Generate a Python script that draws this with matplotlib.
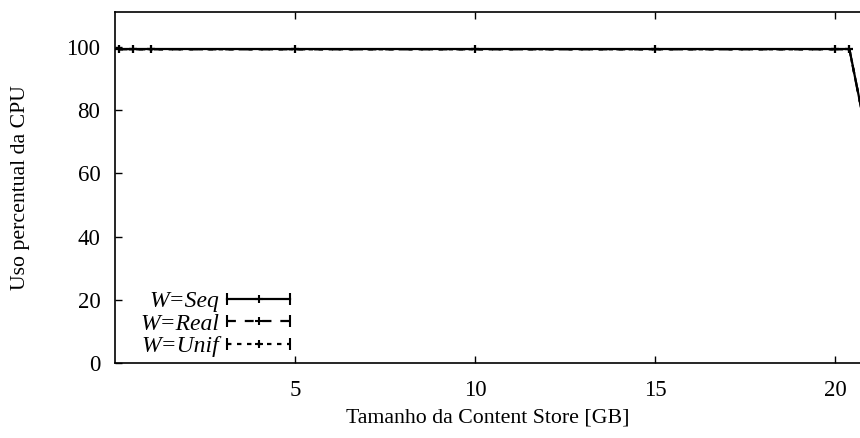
import matplotlib
matplotlib.use("Agg")
import matplotlib.pyplot as plt
from matplotlib.lines import Line2D
from matplotlib.legend_handler import HandlerLine2D, HandlerTuple

plt.rcParams['font.family'] = ['Liberation Serif', 'DejaVu Serif']
plt.rcParams['font.size'] = 15.5

# CPU usage vs content store size, one series per workload
sizes = [0.1, 0.5, 1, 5, 10, 15, 20, 20.4, 21]
cpuSeq = [99.3, 99.3, 99.3, 99.3, 99.3, 99.3, 99.3, 99.3, 65.0]
cpuReal = [99.2, 99.2, 99.2, 99.2, 99.2, 99.2, 99.2, 99.2, 65.0]
cpuUnif = [99.2, 99.2, 99.2, 99.2, 99.2, 99.2, 99.2, 99.2, 65.0]
labels = ["W=Seq", "W=Real", "W=Unif"]
xticks = [5, 10, 15, 20]
yticks = [0, 20, 40, 60, 80, 100]

linestyles = ["-", (0, (4, 4)), (0, (2, 2.5))]

fig = plt.figure(figsize=(8.6, 4.38), dpi=100)
ax = fig.add_axes([115 / 860, 1 - 363 / 438, 745 / 860, 351 / 438])

series = [cpuSeq, cpuReal, cpuUnif]
handles = []
hmap = {}
for vals, lab, ls in zip(series, labels, linestyles):
    ax.plot(sizes, vals, color="black", linestyle=ls, linewidth=1.6,
            marker="+", markersize=6, markeredgewidth=1.5)
    # legend sample: line with end caps plus a cross in the middle
    caps = Line2D([], [], color="black", linestyle=ls, linewidth=1.6,
                  marker="|", markersize=8, markeredgewidth=1.5)
    cross = Line2D([], [], color="black", linestyle="none",
                   marker="+", markersize=6, markeredgewidth=1.5)
    hmap[caps] = HandlerLine2D(numpoints=2)
    hmap[cross] = HandlerLine2D(numpoints=1)
    handles.append((caps, cross))
hmap[tuple] = HandlerTuple(ndivide=1)

ax.set_xlim(0, 745 / 36)
ax.set_ylim(0, 111)
ax.set_xticks(xticks)
ax.set_yticks(yticks)
ax.tick_params(direction="in", top=True, right=False, length=5, width=1,
               labelsize=16.5)
ax.tick_params(axis="x", pad=12)
ax.tick_params(axis="y", pad=10.5)
ax.spines["right"].set_visible(False)
for s in ["left", "bottom", "top"]:
    ax.spines[s].set_linewidth(1.2)

ax.set_xlabel("Tamanho da Content Store [GB]", fontsize=15.7, labelpad=6)
ax.set_ylabel("Uso percentual da CPU", fontsize=15.7, labelpad=26)

leg = ax.legend(handles, labels, handler_map=hmap, frameon=False,
                markerfirst=False, loc="lower right",
                bbox_to_anchor=(309 / 860, 1 - 369 / 438),
                bbox_transform=fig.transFigure, borderpad=0,
                handlelength=3.26, handletextpad=0.05, labelspacing=0.04,
                prop={"style": "italic", "size": 17})
for t in leg.get_texts():
    t.set_ha("right")

fig.savefig("out.png", dpi=100)
